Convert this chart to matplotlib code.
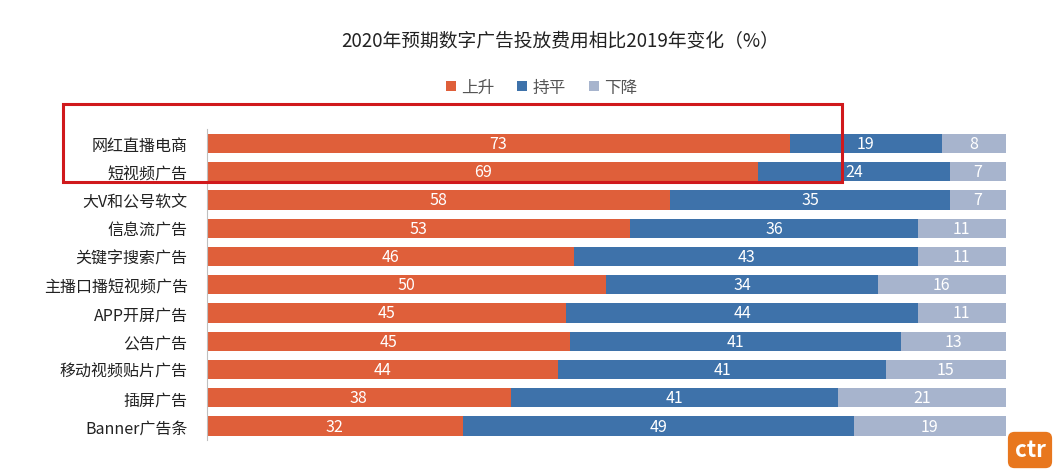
import matplotlib.pyplot as plt
import matplotlib.patches as mpatches
import numpy as np

plt.rcParams['font.family'] = ['Noto Sans CJK SC', 'DejaVu Sans']

categories = ['网红直播电商', '短视频广告', '大V和公号软文', '信息流广告', '关键字搜索广告',
              '主播口播短视频广告', 'APP开屏广告', '公告广告', '移动视频贴片广告', '插屏广告', 'Banner广告条']
rise = [73, 69, 58, 53, 46, 50, 45, 45, 44, 38, 32]
flat = [19, 24, 35, 36, 43, 34, 44, 41, 41, 41, 49]
fall = [8, 7, 7, 11, 11, 16, 11, 13, 15, 21, 19]
series_names = ['上升', '持平', '下降']
colors = ['#DF5F3A', '#3E72AA', '#A7B4CD']

data = np.array([rise, flat, fall], dtype=float)
shares = data / data.sum(axis=0) * 100  # bars fill the full width

fig = plt.figure(figsize=(10.62, 4.77), dpi=100)
ax = fig.add_axes([0.195, 0.075, 0.752, 0.652])

y = np.arange(len(categories))
left = np.zeros(len(categories))
handles = []
for vals, shown, name, c in zip(shares, data, series_names, colors):
    bars = ax.barh(y, vals, left=left, height=0.68, color=c, label=name)
    for yi, l, v, s in zip(y, left, vals, shown):
        ax.text(l + v / 2, yi, f'{int(s)}', ha='center', va='center',
                color='white', fontsize=11.5)
    handles.append(bars)
    left += vals

ax.set_xlim(0, 100)
ax.set_ylim(len(categories) - 0.5, -0.5)
ax.set_yticks(y, categories, fontsize=11.5, color='#222222')
ax.set_xticks([])
ax.tick_params(axis='y', length=0, pad=14)
for s in ['top', 'right', 'bottom']:
    ax.spines[s].set_visible(False)
ax.spines['left'].set_color('#BFBFBF')

fig.text(0.527, 0.912, '2020年预期数字广告投放费用相比2019年变化（%）',
         ha='center', va='center', fontsize=13.5, color='#222222')
fig.legend(handles=handles, loc='center', bbox_to_anchor=(0.51, 0.815), ncol=3,
           frameon=False, fontsize=12, handlelength=0.6, handleheight=0.6,
           columnspacing=1.4, handletextpad=0.3, labelcolor='#555555')

# red highlight box around the first two rows
fig.patches.append(mpatches.Rectangle((63 / 1062, 1 - 183 / 477), 779 / 1062, 78 / 477,
                                      transform=fig.transFigure, fill=False,
                                      edgecolor='#D0191C', linewidth=2.2))

# ctr logo
fig.text(1030 / 1062, 1 - 451 / 477, 'ctr', ha='center', va='center', color='white',
         fontsize=16, fontweight='bold',
         bbox=dict(boxstyle='round,pad=0.3', fc='#E8771E', ec='none'))

fig.savefig('out.png', dpi=100, facecolor='white')
